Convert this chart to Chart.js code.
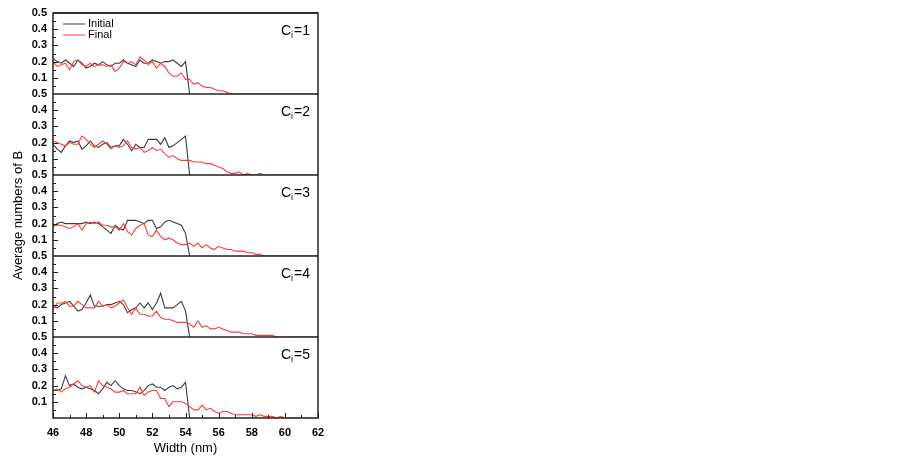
<!DOCTYPE html>
<html>
<head>
<meta charset="utf-8">
<script src="https://cdn.jsdelivr.net/npm/chart.js@4/dist/chart.umd.min.js"></script>
<style>
  html, body { margin: 0; padding: 0; background: #fff; }
  #wrap { width: 900px; height: 469px; }
</style>
</head>
<body>
<div id="wrap"><canvas id="myChart" width="900" height="469"></canvas></div>
<script>
// width positions (nm)
const widths = [46,46.25,46.5,46.75,47,47.25,47.5,47.75,48,48.25,48.5,48.75,49,49.25,49.5,49.75,
  50,50.25,50.5,50.75,51,51.25,51.5,51.75,52,52.25,52.5,52.75,53,53.25,53.5,53.75,
  54,54.25,54.5,54.75,55,55.25,55.5,55.75,56,56.25,56.5,56.75,57,57.25,57.5,57.75,
  58,58.25,58.5,58.75,59,59.25,59.5,59.75,60,60.25,60.5,60.75,61,61.25,61.5,61.75,62];

const panelLabels = ["1", "2", "3", "4", "5"];
const xTicks = [46, 48, 50, 52, 54, 56, 58, 60, 62];
const yTicks = [0.1, 0.2, 0.3, 0.4, 0.5];

// Initial (gray) - ends at 54.25
const initial1 = [0.22,0.20,0.19,0.21,0.19,0.17,0.21,0.19,0.16,0.17,0.19,0.18,0.20,0.18,0.17,0.19,0.19,0.21,0.19,0.18,0.17,0.21,0.19,0.19,0.21,0.20,0.19,0.20,0.20,0.21,0.19,0.17,0.20,0];
const initial2 = [0.19,0.16,0.14,0.18,0.21,0.20,0.21,0.16,0.18,0.21,0.18,0.17,0.19,0.20,0.17,0.18,0.18,0.22,0.19,0.15,0.19,0.17,0.17,0.22,0.22,0.22,0.19,0.23,0.17,0.18,0.20,0.22,0.24,0];
const initial3 = [0.18,0.20,0.21,0.20,0.20,0.20,0.20,0.20,0.21,0.20,0.21,0.20,0.18,0.16,0.14,0.19,0.17,0.16,0.22,0.22,0.22,0.21,0.20,0.22,0.22,0.17,0.18,0.21,0.22,0.21,0.20,0.19,0.14,0];
const initial4 = [0.19,0.18,0.20,0.21,0.22,0.19,0.16,0.17,0.21,0.26,0.19,0.19,0.19,0.20,0.20,0.21,0.22,0.20,0.15,0.17,0.18,0.21,0.18,0.21,0.17,0.21,0.27,0.18,0.18,0.18,0.20,0.22,0.16,0];
const initial5 = [0.17,0.17,0.18,0.26,0.20,0.21,0.19,0.18,0.19,0.18,0.17,0.15,0.18,0.22,0.20,0.23,0.20,0.18,0.17,0.17,0.16,0.15,0.17,0.20,0.21,0.19,0.19,0.17,0.19,0.20,0.18,0.19,0.22,0];

// Final (red) - 46 .. 62
const final1 = [0.20,0.17,0.18,0.19,0.15,0.20,0.21,0.18,0.17,0.19,0.17,0.18,0.18,0.17,0.18,0.14,0.16,0.20,0.19,0.20,0.18,0.23,0.21,0.18,0.20,0.16,0.19,0.17,0.13,0.11,0.11,0.13,0.09,
  0.09,0.06,0.07,0.05,0.04,0.04,0.03,0.02,0.02,0.01,0,0,0,0,0,0,0,0,0,0,0,0,0,0,0,0,0,0,0,0,0,0];
const final2 = [0.21,0.20,0.19,0.18,0.20,0.19,0.19,0.24,0.22,0.19,0.17,0.19,0.21,0.19,0.16,0.18,0.17,0.18,0.21,0.17,0.16,0.17,0.14,0.15,0.17,0.15,0.16,0.13,0.11,0.12,0.10,0.09,0.09,
  0.09,0.08,0.08,0.08,0.07,0.07,0.06,0.05,0.04,0.02,0.01,0.01,0.02,0,0.01,0,0,0.01,0,0,0,0,0,0,0,0,0,0,0,0,0,0];
const final3 = [0.19,0.19,0.19,0.18,0.17,0.18,0.20,0.16,0.20,0.21,0.20,0.21,0.19,0.19,0.18,0.18,0.16,0.20,0.15,0.13,0.17,0.19,0.20,0.13,0.12,0.16,0.12,0.10,0.11,0.10,0.08,0.07,0.07,
  0.08,0.06,0.08,0.05,0.07,0.05,0.04,0.06,0.05,0.04,0.04,0.03,0.03,0.03,0.02,0.02,0.01,0.01,0,0,0,0,0,0,0,0,0,0,0,0,0,0];
const final4 = [0.17,0.21,0.21,0.22,0.19,0.19,0.22,0.20,0.18,0.18,0.18,0.22,0.19,0.20,0.18,0.19,0.21,0.23,0.18,0.14,0.18,0.14,0.14,0.13,0.13,0.16,0.12,0.11,0.11,0.10,0.09,0.09,0.09,
  0.08,0.06,0.10,0.06,0.07,0.05,0.05,0.06,0.05,0.04,0.03,0.03,0.03,0.02,0.02,0.02,0.01,0.01,0.01,0.01,0.01,0,0,0,0,0,0,0,0,0,0,0];
const final5 = [0.17,0.18,0.16,0.18,0.19,0.21,0.23,0.20,0.19,0.20,0.16,0.23,0.20,0.19,0.18,0.16,0.16,0.17,0.15,0.15,0.15,0.19,0.14,0.16,0.17,0.17,0.12,0.12,0.07,0.10,0.10,0.10,0.09,
  0.07,0.05,0.05,0.08,0.05,0.06,0.04,0.03,0.04,0.04,0.03,0.02,0.02,0.02,0.02,0.02,0.01,0.02,0.01,0.01,0.01,0,0.01,0,0,0,0,0,0,0,0,0];

const initials = [initial1, initial2, initial3, initial4, initial5];
const finals = [final1, final2, final3, final4, final5];

const GRAY = "#3c3c3c";
const RED = "#ff3b3b";
const FONT = "'Liberation Sans', Arial, sans-serif";

function toPoints(arr) {
  return arr.map((v, i) => ({ x: widths[i], y: v }));
}

const datasets = [];
const scales = {
  x: {
    type: "linear", min: 46, max: 62,
    afterBuildTicks: (s) => { s.ticks = xTicks.map(v => ({ value: v })); },
    ticks: { color: "#000", font: { family: FONT, size: 11, weight: "bold" }, padding: 0, autoSkip: false },
    grid: { display: false }, border: { display: false },
    afterFit: (s) => { s.height = 51; }
  }
};
for (let p = 0; p < 5; p++) {
  const id = "y" + (p + 1);
  datasets.push({ label: "Final", data: toPoints(finals[p]), yAxisID: id, borderColor: RED, borderWidth: 1.1, pointRadius: 0, tension: 0, order: 1 });
  datasets.push({ label: "Initial", data: toPoints(initials[p]), yAxisID: id, borderColor: GRAY, borderWidth: 1.1, pointRadius: 0, tension: 0, order: 2 });
}
// stacked axes are laid out bottom-up, so add the lowest panel first
for (let p = 4; p >= 0; p--) {
  scales["y" + (p + 1)] = {
    type: "linear", position: "left", stack: "panels", stackWeight: 1,
    min: 0, max: 0.5,
    afterBuildTicks: (s) => { s.ticks = [{ value: 0 }].concat(yTicks.map(v => ({ value: v }))); },
    ticks: {
      color: "#000", font: { family: FONT, size: 11, weight: "bold" }, padding: 6, autoSkip: false,
      callback: (v) => v === 0 ? "" : v.toFixed(1)
    },
    grid: { display: false, drawTicks: false, tickLength: 0 }, border: { display: false },
    afterFit: (s) => { s.width = 53; }
  };
}

const decorations = {
  id: "decorations",
  afterDatasetsDraw(chart) {
    const ctx = chart.ctx;
    const a = chart.chartArea;
    const xs = chart.scales.x;
    ctx.save();
    ctx.strokeStyle = "#222";
    ctx.lineWidth = 1.5;
    ctx.strokeRect(a.left, a.top, a.right - a.left, a.bottom - a.top);

    // panel separators, inward ticks and C_i labels
    const ys = [1, 2, 3, 4, 5].map(i => chart.scales["y" + i]);
    ys.forEach((s, i) => {
      ctx.strokeStyle = "#222";
      ctx.lineWidth = 1.5;
      ctx.beginPath();
      ctx.moveTo(a.left, s.top);
      ctx.lineTo(a.right, s.top);
      ctx.stroke();
      ctx.lineWidth = 1;
      for (let k = 1; k < 10; k++) {
        const py = Math.round(s.getPixelForValue(k * 0.05)) + 0.5;
        const len = k % 2 === 0 ? 5 : 3;
        ctx.beginPath();
        ctx.moveTo(a.left, py);
        ctx.lineTo(a.left + len, py);
        ctx.stroke();
      }
      ctx.fillStyle = "#000";
      ctx.textBaseline = "middle";
      ctx.textAlign = "left";
      ctx.font = "14px " + FONT;
      const tx = a.right - 37, ty = s.top + 18;
      ctx.fillText("C", tx, ty);
      const cw = ctx.measureText("C").width;
      ctx.font = "9px " + FONT;
      ctx.fillText("i", tx + cw, ty + 5);
      const iw = ctx.measureText("i").width;
      ctx.font = "14px " + FONT;
      ctx.fillText("=" + panelLabels[i], tx + cw + iw + 1, ty);
    });

    // x-axis inward ticks
    ctx.strokeStyle = "#222";
    ctx.lineWidth = 1;
    for (let v = 46; v <= 62; v++) {
      const px = Math.round(xs.getPixelForValue(v)) + 0.5;
      const len = v % 2 === 0 ? 5 : 3;
      ctx.beginPath();
      ctx.moveTo(px, a.bottom);
      ctx.lineTo(px, a.bottom - len);
      ctx.stroke();
    }

    // legend
    const lx = a.left + 10, ly = a.top + 11;
    ctx.lineWidth = 1;
    ctx.strokeStyle = GRAY;
    ctx.beginPath(); ctx.moveTo(lx, ly); ctx.lineTo(lx + 22, ly); ctx.stroke();
    ctx.strokeStyle = RED;
    ctx.beginPath(); ctx.moveTo(lx, ly + 11); ctx.lineTo(lx + 22, ly + 11); ctx.stroke();
    ctx.fillStyle = "#000";
    ctx.font = "11px " + FONT;
    ctx.textBaseline = "middle";
    ctx.fillText("Initial", lx + 25, ly);
    ctx.fillText("Final", lx + 25, ly + 11);

    // axis titles
    ctx.font = "13px " + FONT;
    ctx.textAlign = "center";
    ctx.fillText("Width (nm)", (a.left + a.right) / 2, 448);
    ctx.translate(18, (a.top + a.bottom) / 2);
    ctx.rotate(-Math.PI / 2);
    ctx.fillText("Average numbers of B", 0, 0);
    ctx.restore();
  }
};

new Chart(document.getElementById("myChart").getContext("2d"), {
  type: "line",
  data: { datasets: datasets },
  options: {
    responsive: false,
    animation: false,
    layout: { padding: { top: 13, right: 582, left: 0, bottom: 0 } },
    plugins: { legend: { display: false }, tooltip: { enabled: false } },
    scales: scales
  },
  plugins: [decorations]
});
</script>
</body>
</html>
